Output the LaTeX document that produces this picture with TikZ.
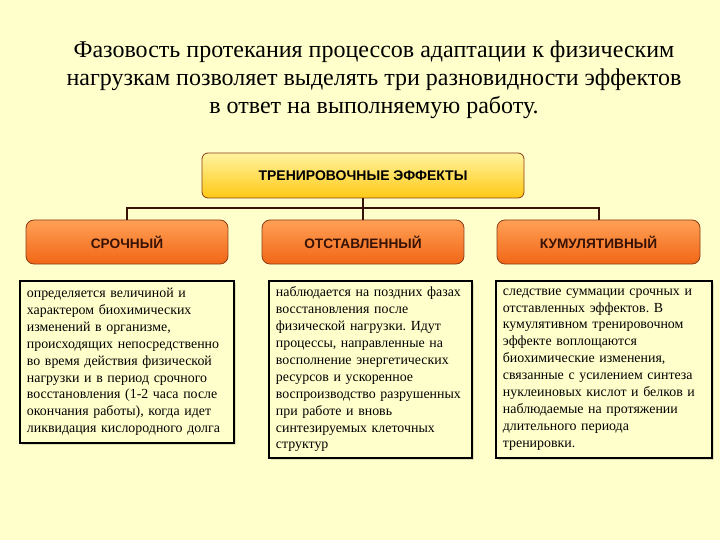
\documentclass[tikz,border=0pt]{standalone}
\usepackage{fontspec}
\setmainfont{Liberation Serif}
\setsansfont{Liberation Sans}
\usetikzlibrary{positioning, shadows}
\definecolor{PaleCream}{RGB}{255,255,204}
\definecolor{DarkBrown}{RGB}{55,18,5}
\definecolor{EdgeBrown}{RGB}{140,60,20}
\definecolor{GoldTop}{RGB}{255,244,160}
\definecolor{GoldBot}{RGB}{255,200,20}
\definecolor{OrangeTop}{RGB}{255,160,85}
\definecolor{OrangeBot}{RGB}{242,102,22}
\frenchspacing

\begin{document}
\begin{tikzpicture}[x=1pt, y=-1pt,
                    rootbox/.style={rectangle, rounded corners=6pt, draw=EdgeBrown, line width=0.8pt, top color=GoldTop, bottom color=GoldBot, minimum width=322pt, minimum height=45pt, inner sep=0pt, font=\sffamily\bfseries\fontsize{14}{16}\selectfont},
                    headbox/.style={rectangle, rounded corners=8pt, draw=EdgeBrown, line width=0.8pt, top color=OrangeTop, bottom color=OrangeBot, minimum width=203pt, minimum height=44pt, inner sep=0pt, text=DarkBrown, font=\sffamily\bfseries\fontsize{13.7}{15}\selectfont},
                    notebox/.style={rectangle, draw=black, line width=1.8pt, fill=PaleCream, anchor=north west, inner xsep=7pt, inner ysep=3pt, align=left, font=\fontsize{13.9}{16.9}\selectfont, drop shadow={shadow xshift=2pt, shadow yshift=-2pt, fill=black, opacity=0.12}},
                    link/.style={draw=DarkBrown, line width=2pt}
                ]
                    \fill[PaleCream] (0,0) rectangle (720,540);
                    \useasboundingbox (0,0) rectangle (720,540);

                    \node[align=center, font=\fontsize{24}{28}\selectfont] (title) at (374,80) {Фазовость протекания процессов адаптации к физическим\\нагрузкам позволяет выделять три разновидности эффектов\\в ответ на выполняемую работу.};

                    \node[rootbox] (trainfx) at (363,175.5) {ТРЕНИРОВОЧНЫЕ ЭФФЕКТЫ};
                    \node[headbox, minimum width=202pt] (urgent) at (127,242) {СРОЧНЫЙ};
                    \node[headbox, minimum width=202pt] (delayed) at (363,242) {ОТСТАВЛЕННЫЙ};
                    \node[headbox] (cumul) at (598.5,242) {КУМУЛЯТИВНЫЙ};
                    \coordinate (bus) at (363,208);

                    \node[notebox, text width=200pt, minimum height=162pt] (urgenttxt) at (19,280) {определяется величиной и\\характером биохимических\\изменений в организме,\\происходящих непосредственно\\во время действия физической\\нагрузки и в период срочного\\восстановления (1-2 часа после\\окончания работы), когда идет\\ликвидация кислородного долга};
                    \node[notebox, text width=189pt, minimum height=177pt] (delayedtxt) at (268,280) {наблюдается на поздних фазах\\восстановления после\\физической нагрузки. Идут\\процессы, направленные на\\восполнение энергетических\\ресурсов и ускоренное\\воспроизводство разрушенных\\при работе и вновь\\синтезируемых клеточных\\структур};
                    \node[notebox, text width=202pt, minimum height=177pt] (cumultxt) at (495,280) {следствие суммации срочных и\\отставленных эффектов. В\\кумулятивном тренировочном\\эффекте воплощаются\\биохимические изменения,\\связанные с усилением синтеза\\нуклеиновых кислот и белков и\\наблюдаемые на протяжении\\длительного периода\\тренировки.};

                    \draw[link] (trainfx) -- (delayed);
                    \draw[link] (urgent.north) |- (bus) -| (cumul.north);
                \end{tikzpicture}
\end{document}
